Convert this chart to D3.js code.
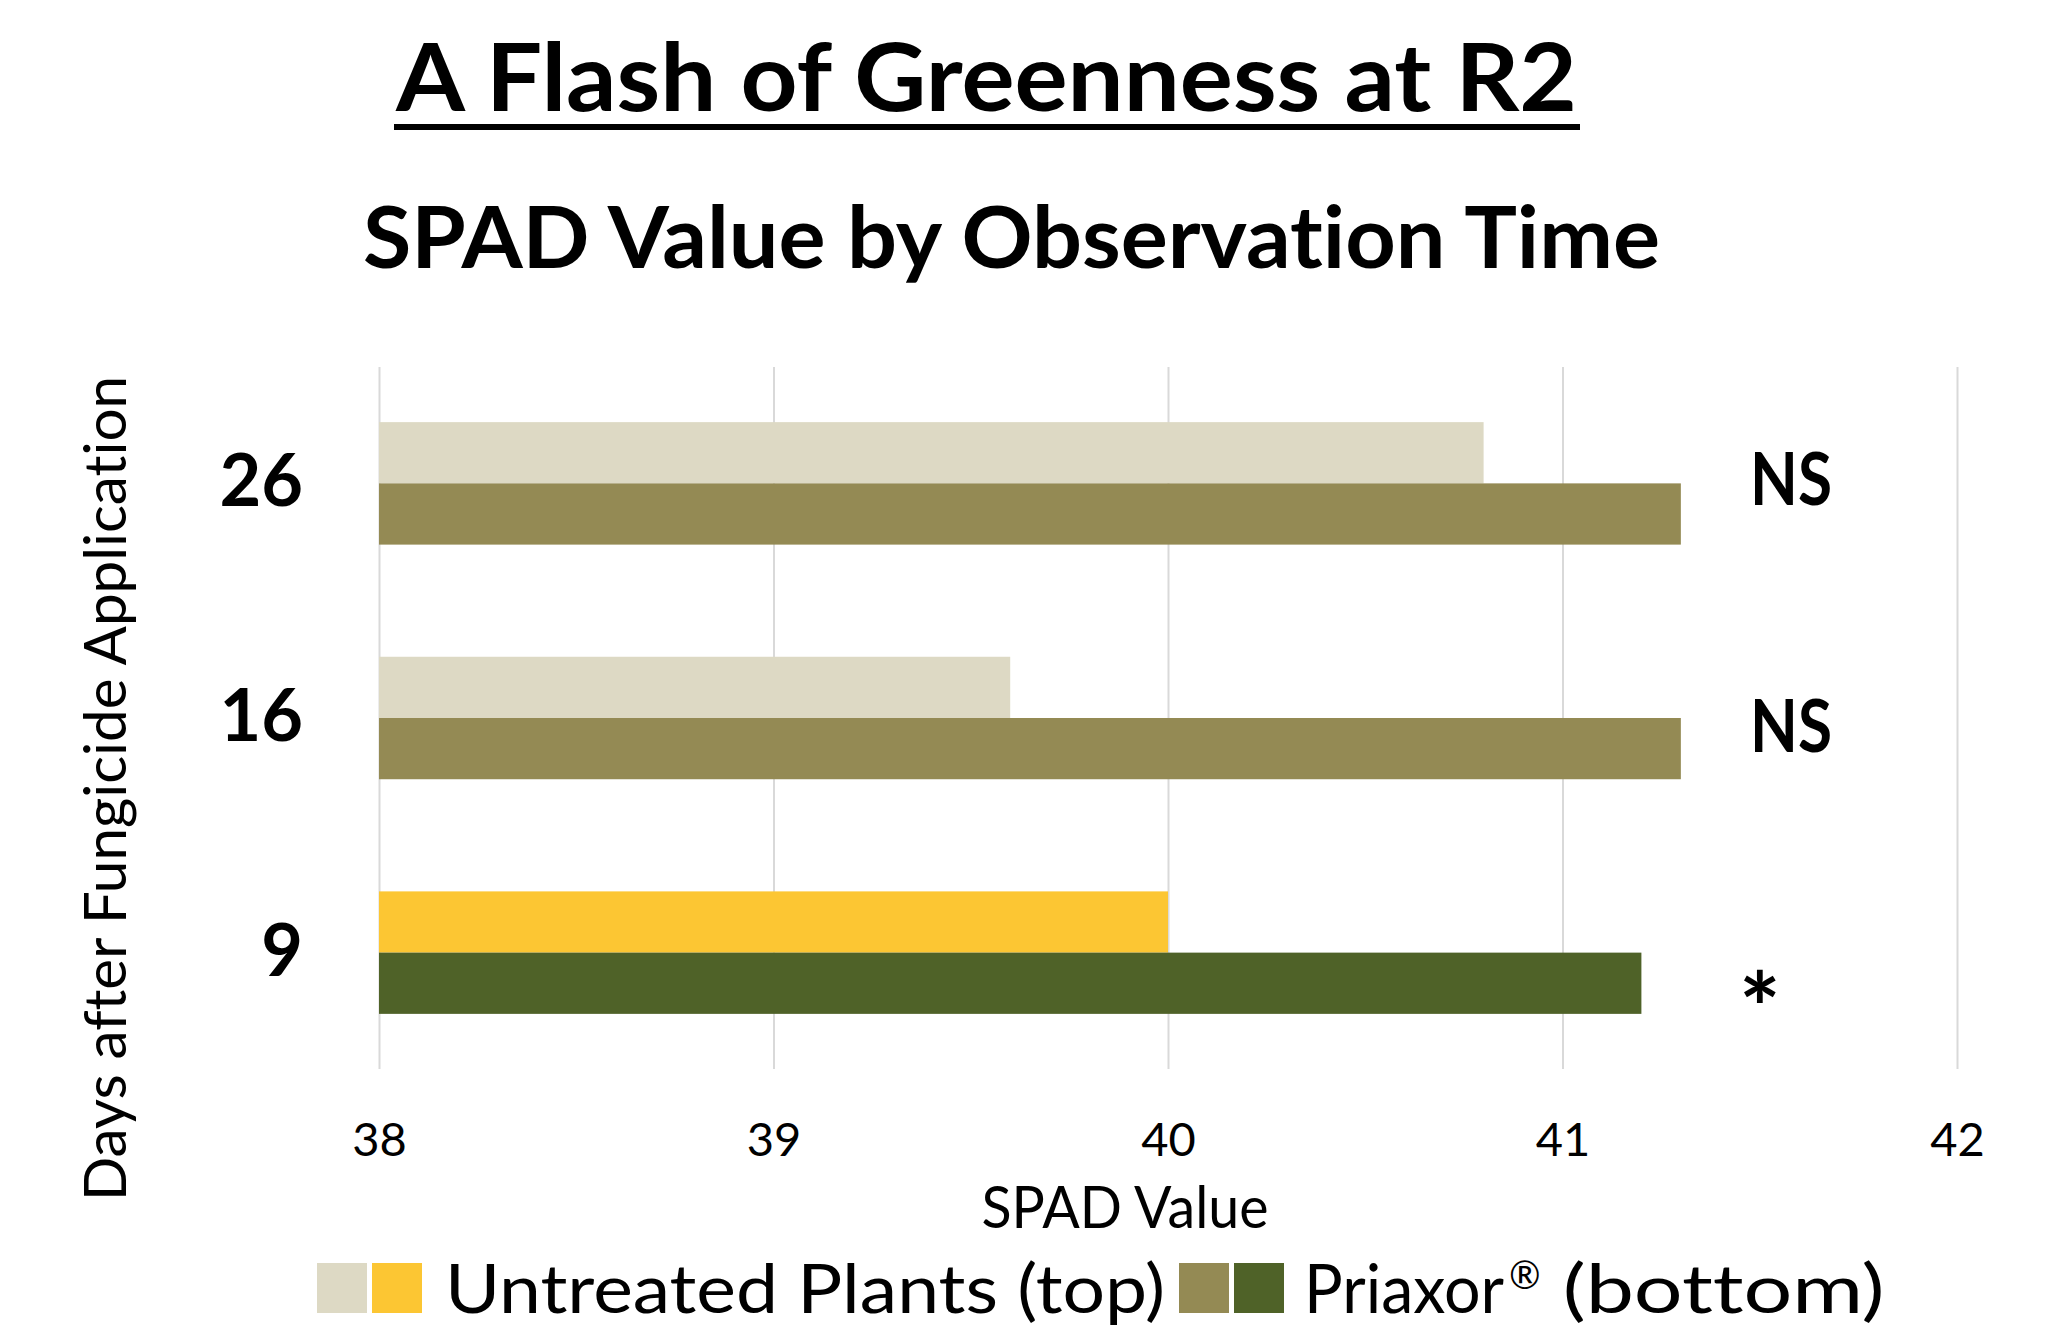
<!DOCTYPE html>
<html>
<head>
<meta charset="utf-8">
<script src="https://cdn.jsdelivr.net/npm/d3@7"></script>
<style>
  html, body { margin: 0; padding: 0; background: #ffffff; }
  svg { display: block; }
  text { font-family: Lato, "Open Sans", sans-serif; fill: #000;
         font-variant-ligatures: none; font-feature-settings: "liga" 0, "clig" 0; }
</style>
</head>
<body>
<svg id="chart" width="2069" height="1329"></svg>
<script>
// ---- data ----
const categories = ["26", "16", "9"];           // days after fungicide application (top to bottom)
const untreatedValues = [40.8, 39.6, 40.0];      // Untreated Plants (top bar)
const priaxorValues = [41.3, 41.3, 41.2];        // Priaxor (bottom bar)
const untreatedColors = ["#DDD9C4", "#DDD9C4", "#FCC633"];
const priaxorColors = ["#948A54", "#948A54", "#4F6228"];
const significance = ["NS", "NS", "*"];
const xTicks = [38, 39, 40, 41, 42];
const legendLabels = ["Untreated Plants (top)", "Priaxor"];
const legendSuffix = ["", " (bottom)"];

// ---- layout ----
const plot = { left: 379, right: 1957, top: 367, bottom: 1069 };
const svg = d3.select("#chart");

const x = d3.scaleLinear().domain([38, 42]).range([plot.left, plot.right]);
const y = d3.scaleBand().domain(categories).range([plot.top, plot.bottom])
  .paddingInner(0.478).paddingOuter(0.235);
const sub = d3.scaleBand().domain(["untreated", "priaxor"]).range([0, y.bandwidth()]);

// gridlines + tick labels
const xAxis = d3.axisBottom(x).tickValues(xTicks).tickSize(-(plot.bottom - plot.top)).tickFormat(d3.format("d"));
const gx = svg.append("g").attr("transform", `translate(0,${plot.bottom})`).call(xAxis);
gx.select(".domain").remove();
gx.selectAll(".tick line").attr("stroke", "#D9D9D9").attr("stroke-width", 2);
gx.selectAll(".tick text")
  .attr("y", 87).attr("dy", 0)
  .attr("font-size", 47).attr("font-family", "Lato, sans-serif").attr("fill", "#000");

// bars
const rows = categories.map((c, i) => ({ c, i }));
svg.append("g").selectAll("rect").data(rows).join("rect")
  .attr("x", x(38))
  .attr("y", d => y(d.c) + sub("untreated"))
  .attr("width", d => x(untreatedValues[d.i]) - x(38))
  .attr("height", sub.bandwidth())
  .attr("fill", d => untreatedColors[d.i]);
svg.append("g").selectAll("rect").data(rows).join("rect")
  .attr("x", x(38))
  .attr("y", d => y(d.c) + sub("priaxor"))
  .attr("width", d => x(priaxorValues[d.i]) - x(38))
  .attr("height", sub.bandwidth())
  .attr("fill", d => priaxorColors[d.i]);

// category labels
const yAxis = d3.axisLeft(y).tickSize(0).tickPadding(76);
const gy = svg.append("g").attr("transform", `translate(${plot.left},0)`).call(yAxis);
gy.select(".domain").remove();
gy.selectAll(".tick text")
  .attr("font-size", 72).attr("font-weight", 700).attr("font-family", "Lato, sans-serif")
  .attr("fill", "#000").attr("dy", "0.32em");

// significance annotations (manually placed text boxes in the original)
const annotationNudge = [22, 34, 91];
const annotationSize = [72, 72, 98];
svg.append("g").selectAll("text").data(rows).join("text")
  .attr("x", d => significance[d.i] === "*" ? 1739 : 1750)
  .attr("y", d => y(d.c) + y.bandwidth() / 2 + annotationNudge[d.i])
  .attr("font-size", d => annotationSize[d.i]).attr("font-weight", 700)
  .each(function (d) {
    if (significance[d.i] === "NS") d3.select(this).attr("textLength", 82).attr("lengthAdjust", "spacingAndGlyphs");
  })
  .text(d => significance[d.i]);

// titles
svg.append("text").attr("x", 986.5).attr("y", 111).attr("text-anchor", "middle")
  .attr("font-size", 93).attr("font-weight", 700)
  .attr("textLength", 1181).attr("lengthAdjust", "spacingAndGlyphs")
  .text("A Flash of Greenness at R2");
svg.append("rect").attr("x", 394).attr("y", 124).attr("width", 1186).attr("height", 6).attr("fill", "#000");

svg.append("text").attr("x", 1011.5).attr("y", 268).attr("text-anchor", "middle")
  .attr("font-size", 86).attr("font-weight", 700)
  .attr("textLength", 1297).attr("lengthAdjust", "spacingAndGlyphs")
  .text("SPAD Value by Observation Time");

// axis titles
svg.append("text").attr("x", 1125).attr("y", 1228).attr("text-anchor", "middle")
  .attr("font-size", 58).attr("textLength", 287).attr("lengthAdjust", "spacingAndGlyphs")
  .text("SPAD Value");
svg.append("text").attr("transform", "translate(126,788.5) rotate(-90)").attr("text-anchor", "middle")
  .attr("font-size", 58).attr("textLength", 825).attr("lengthAdjust", "spacingAndGlyphs")
  .text("Days after Fungicide Application");

// legend
const lg = svg.append("g");
// item 1
[untreatedColors[0], untreatedColors[2]].forEach((col, k) => {
  lg.append("rect").attr("x", 317 + k * 55).attr("y", 1263).attr("width", 50).attr("height", 50).attr("fill", col);
});
lg.append("text").attr("x", 445).attr("y", 1313)
  .attr("font-size", 68).attr("textLength", 720).attr("lengthAdjust", "spacingAndGlyphs")
  .text(legendLabels[0]);
// item 2
[priaxorColors[0], priaxorColors[2]].forEach((col, k) => {
  lg.append("rect").attr("x", 1179 + k * 55).attr("y", 1263).attr("width", 50).attr("height", 50).attr("fill", col);
});
const t2 = lg.append("text").attr("x", 1304).attr("y", 1313).attr("font-size", 68);
t2.append("tspan").attr("textLength", 200).attr("lengthAdjust", "spacingAndGlyphs").text(legendLabels[1]);
t2.append("tspan").attr("font-size", 38).attr("dx", 5).attr("dy", -24).text("\u00AE");
t2.append("tspan").attr("dy", 24).attr("textLength", 344).attr("lengthAdjust", "spacingAndGlyphs").text(legendSuffix[1]);
</script>
</body>
</html>
